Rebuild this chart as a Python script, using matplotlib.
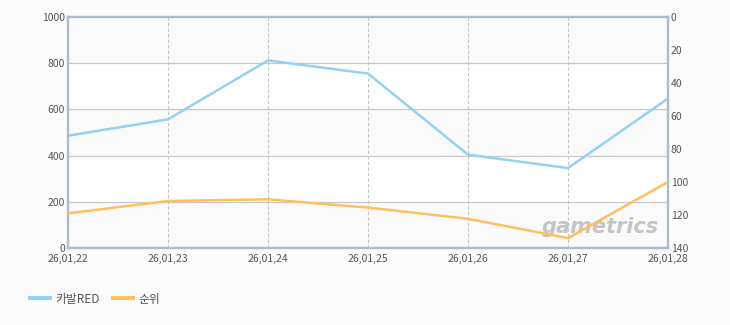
import matplotlib
matplotlib.use("Agg")
import matplotlib.pyplot as plt
from matplotlib.lines import Line2D

plt.rcParams['font.family'] = ['Noto Sans CJK KR', 'DejaVu Sans']

dates = ["26,01,22", "26,01,23", "26,01,24", "26,01,25", "26,01,26", "26,01,27", "26,01,28"]
users = [486, 557, 812, 755, 404, 346, 647]
rank = [119, 111.5, 110.5, 115.5, 122.3, 134, 100]
left_ticks = [0, 200, 400, 600, 800, 1000]
right_ticks = [0, 20, 40, 60, 80, 100, 120, 140]
series_names = ["카발RED", "순위"]

blue = "#94d2f0"
orange = "#fdc060"
tick_color = "#555555"
border = "#aabdd3"

fig = plt.figure(figsize=(7.3, 3.25), dpi=100)
fig.patch.set_facecolor("#fcfcfc")
ax = fig.add_axes([68/730, 77/325, 600/730, 231/325])
ax.set_facecolor("white")

x = list(range(len(dates)))
ax.set_xlim(0, len(dates) - 1)
ax.set_ylim(0, 1000)

for i in range(0, len(left_ticks) - 1):
    if i % 2 == 0:
        ax.axhspan(left_ticks[i], left_ticks[i + 1], color="#fafafa", zorder=0, lw=0)

for t in left_ticks[1:-1]:
    ax.axhline(t, color="#c8c8c8", lw=0.9, zorder=1)
for xi in x[1:-1]:
    ax.axvline(xi, color="#c4c4c4", lw=0.8, ls=(0, (3, 2)), zorder=1)

ax.plot(x, users, color=blue, lw=1.8, zorder=3)
ax.set_yticks(left_ticks)
ax.set_xticks(x)
ax.set_xticklabels(dates)
ax.tick_params(axis="both", length=0, labelsize=7.5, colors=tick_color, pad=2)
ax.tick_params(axis="x", pad=4.5)

ax2 = ax.twinx()
ax2.set_ylim(140, 0)
ax2.plot(x, rank, color=orange, lw=1.8, zorder=3)
ax2.set_yticks(right_ticks)
ax2.tick_params(axis="y", length=0, labelsize=7.5, colors=tick_color, pad=2)

for a in (ax, ax2):
    for s in a.spines.values():
        s.set_color(border)
        s.set_linewidth(1.6)

ax2.text(0.985, 0.09, "gametrics", transform=ax.transAxes, ha="right", va="center",
         fontsize=15, fontweight="bold", style="italic", color="#b8b8b8",
         alpha=0.8, family="DejaVu Sans", zorder=2)

handles = [Line2D([0], [0], color=blue, lw=3), Line2D([0], [0], color=orange, lw=3)]
fig.legend(handles, series_names, loc="center left", bbox_to_anchor=(22/730, 1 - 299/325),
           ncol=2, frameon=False, fontsize=8.5, handlelength=1.7, handletextpad=0.45,
           columnspacing=1.1, labelcolor=tick_color, borderpad=0.2)

fig.savefig("out.png", dpi=100, facecolor=fig.get_facecolor())
